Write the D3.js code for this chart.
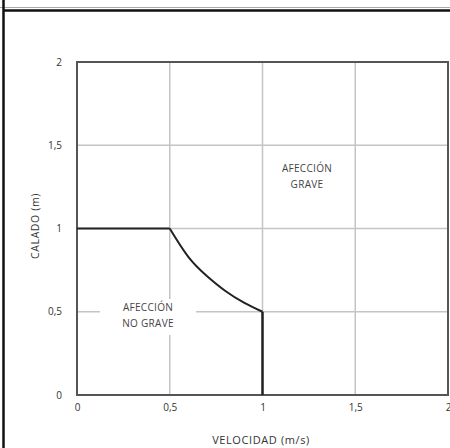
<!DOCTYPE html>
<html>
<head>
<meta charset="utf-8">
<script src="https://cdn.jsdelivr.net/npm/d3@7"></script>
<style>
  html, body { margin: 0; padding: 0; background: #fff; }
  svg { display: block; font-family: "Open Sans", "Liberation Sans", sans-serif; }
</style>
</head>
<body>
<svg id="chart" width="450" height="448"></svg>
<script>
// values
const xTicks = [0, 0.5, 1, 1.5, 2];
const yTicks = [0, 0.5, 1, 1.5, 2];
const limitV = [0, 0.5, 0.6, 0.7, 0.8, 0.9, 1, 1];
const limitH = [1, 1, 0.83, 0.715, 0.625, 0.555, 0.5, 0];
const labelGrave = ["AFECCIÓN", "GRAVE"];
const labelNoGrave = ["AFECCIÓN", "NO GRAVE"];

const svg = d3.select("#chart");
const fmt = d => String(d).replace(".", ",");

const x = d3.scaleLinear().domain([0, 2]).range([77, 448]);
const y = d3.scaleLinear().domain([0, 2]).range([395, 62]);

// outer frame of the page
svg.append("line").attr("x1", 0).attr("x2", 450).attr("y1", 7.5).attr("y2", 7.5)
  .attr("stroke", "#aaa").attr("stroke-width", 1);
svg.append("line").attr("x1", 3).attr("x2", 450).attr("y1", 10.5).attr("y2", 10.5)
  .attr("stroke", "#111").attr("stroke-width", 2.5);
svg.append("line").attr("x1", 3.5).attr("x2", 3.5).attr("y1", 0).attr("y2", 448)
  .attr("stroke", "#111").attr("stroke-width", 2.5);

// grid
svg.append("g").selectAll("line").data(xTicks.slice(1, -1)).enter().append("line")
  .attr("x1", d => x(d)).attr("x2", d => x(d))
  .attr("y1", y(2)).attr("y2", y(0))
  .attr("stroke", "#c4c4c4").attr("stroke-width", 1.5);
svg.append("g").selectAll("line").data(yTicks.slice(1, -1)).enter().append("line")
  .attr("x1", x(0)).attr("x2", x(2))
  .attr("y1", d => y(d)).attr("y2", d => y(d))
  .attr("stroke", "#c4c4c4").attr("stroke-width", 1.5);

// zone labels (white box behind, hides the grid)
function zoneLabel(lines, cx, cy, bw, bh) {
  const g = svg.append("g");
  g.append("rect").attr("x", cx - bw / 2).attr("y", cy - 12)
    .attr("width", bw).attr("height", bh).attr("fill", "#fff");
  g.selectAll("text").data(lines).enter().append("text")
    .attr("x", cx).attr("y", (d, i) => cy + i * 16)
    .attr("text-anchor", "middle").attr("font-size", 10).attr("fill", "#444")
    .attr("letter-spacing", 0.3)
    .text(d => d);
}
zoneLabel(labelGrave, 307, 172, 70, 32);
zoneLabel(labelNoGrave, 148, 311, 96, 36);

// plot border
svg.append("rect")
  .attr("x", x(0)).attr("y", y(2))
  .attr("width", x(2) - x(0)).attr("height", y(0) - y(2))
  .attr("fill", "none").attr("stroke", "#555").attr("stroke-width", 2);

// limit line
const pts = limitV.map((v, i) => [v, limitH[i]]);
const line = d3.line().x(d => x(d[0])).y(d => y(d[1]));
svg.append("path")
  .attr("d", line.curve(d3.curveLinear)(pts.slice(0, 2)))
  .attr("fill", "none").attr("stroke", "#222").attr("stroke-width", 2);
svg.append("path")
  .attr("d", line.curve(d3.curveNatural)(pts.slice(1, 7)))
  .attr("fill", "none").attr("stroke", "#222").attr("stroke-width", 2);
svg.append("path")
  .attr("d", line.curve(d3.curveLinear)(pts.slice(6)))
  .attr("fill", "none").attr("stroke", "#222").attr("stroke-width", 2.5);

// axes
const xAxis = d3.axisBottom(x).tickValues(xTicks).tickSize(0).tickPadding(9).tickFormat(fmt);
const gx = svg.append("g").attr("transform", `translate(0,${y(0)})`).call(xAxis);
const yAxis = d3.axisLeft(y).tickValues(yTicks).tickSize(0).tickPadding(15).tickFormat(fmt);
const gy = svg.append("g").attr("transform", `translate(${x(0)},0)`).call(yAxis);
[gx, gy].forEach(g => {
  g.select(".domain").remove();
  g.selectAll("text").attr("font-size", 10).attr("fill", "#333")
    .attr("font-family", "'Open Sans', 'Liberation Sans', sans-serif");
});

// axis titles
svg.append("text")
  .attr("x", 261).attr("y", 444)
  .attr("text-anchor", "middle").attr("font-size", 11).attr("fill", "#333")
  .attr("letter-spacing", 0.6)
  .text("VELOCIDAD (m/s)");
svg.append("text")
  .attr("transform", `translate(39,226) rotate(-90)`)
  .attr("text-anchor", "middle").attr("font-size", 10.5).attr("fill", "#333")
  .attr("letter-spacing", 0.6)
  .text("CALADO (m)");
</script>
</body>
</html>
